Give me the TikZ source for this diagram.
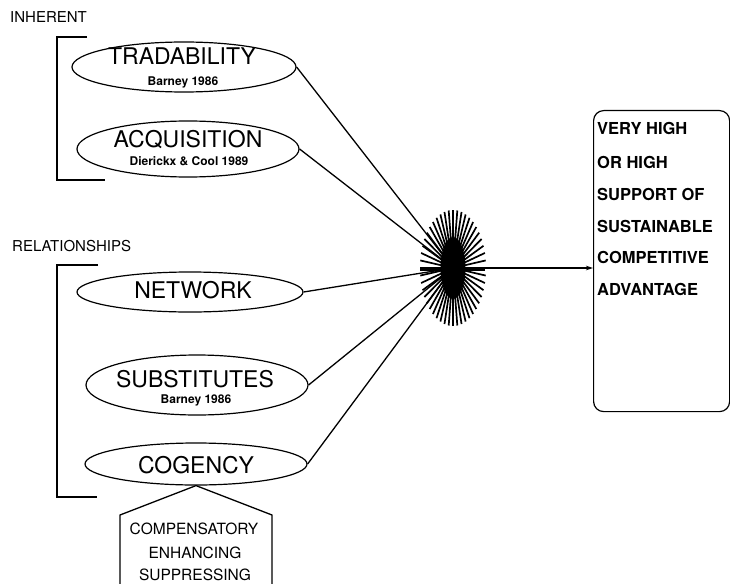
\documentclass[tikz,border=0pt]{standalone}
\usepackage{fontspec}
\setmainfont{TeX Gyre Heros}
\usetikzlibrary{shapes.geometric,arrows.meta}
\newcommand{\fsz}[1]{\fontsize{#1}{#1}\selectfont}
\tikzset{
  oval/.style={draw, ellipse, line width=1.2pt, inner sep=0pt},
  big/.style={anchor=base, inner sep=0pt, font=\fsz{23}},
  small/.style={anchor=base, inner sep=0pt, font=\bfseries\fsz{12}},
  head/.style={anchor=base west, inner sep=0pt, font=\fsz{15}},
  boxtxt/.style={anchor=base west, inner sep=0pt, font=\bfseries\fsz{16.5}},
  mid/.style={anchor=base, inner sep=0pt, font=\fsz{15.5}},
  conn/.style={line width=1.3pt},
  brk/.style={line width=1.2pt}
}
\begin{document}
\begin{tikzpicture}[x=1pt,y=-1pt]
\useasboundingbox (0,0) rectangle (730,583);
\clip (0,0) rectangle (730,583);
% headings
\node[head] (inh) at (10,23) {INHERENT};
\node[head] (rel) at (12,251) {RELATIONSHIPS};
% brackets
\draw[brk] (87,37) -- (57,37) -- (57,180) -- (105,180);
\draw[brk] (98,265) -- (57,265) -- (57,497) -- (97,497);
% ellipses
\node[oval, minimum width=224, minimum height=50] (trad) at (184,67) {};
\node[oval, minimum width=222, minimum height=56] (acq) at (188,149) {};
\node[oval, minimum width=226, minimum height=40] (net) at (190,292) {};
\node[oval, minimum width=222, minimum height=60] (sub) at (197,385) {};
\node[oval, minimum width=222, minimum height=42] (cog) at (196,464) {};
% texts
\node[big] (t1) at (182,65) {TRADABILITY};
\node[small] (t1s) at (183,86) {Barney 1986};
\node[big] (t2) at (188,147) {ACQUISITION};
\node[small] (t2s) at (189,165) {Dierickx \& Cool 1989};
\node[big] (t3) at (193,298) {NETWORK};
\node[big] (t4) at (195,387) {SUBSTITUTES};
\node[small] (t4s) at (196,403) {Barney 1986};
\node[big] (t5) at (196,473) {COGENCY};
% pentagon
\coordinate (apex) at (cog.south);
\coordinate (pl) at (120,515);
\coordinate (pr) at (272,515);
\coordinate (bl) at (120,600);
\coordinate (br) at (272,600);
\draw[conn] (bl) -- (pl) -- (apex) -- (pr) -- (br);
\node[mid] (c1) at (194,534) {COMPENSATORY};
\node[mid] (c2) at (195,558) {ENHANCING};
\node[mid] (c3) at (195,580) {SUPPRESSING};
% star centre
\coordinate (S) at (453,268);
% connectors
\draw[conn] (trad.east) -- (S);
\draw[conn] (acq.east) -- (S);
\draw[conn] (net.east) -- (S);
\draw[conn] (sub.east) -- (S);
\draw[conn] (cog.east) -- (S);
% starburst
\foreach \a in {0,7.5,...,352.5}{
  \draw[line width=1.7pt] (S) -- ++({33*cos(\a)},{58*sin(\a)});
}
\fill (S) ellipse [x radius=12.5, y radius=31];
\draw[line width=3pt] (420,269) -- (485,269);
% result box
\node[draw, rounded corners=10pt, line width=1.2pt, minimum width=136, minimum height=301, anchor=north west] (box) at (593,110) {};
\draw[conn, -{Stealth[length=7pt,width=4.5pt]}] (S) -- (box.west |- S);
\node[boxtxt] (b1) at (597,135) {VERY HIGH};
\node[boxtxt] (b2) at (597,168) {OR HIGH};
\node[boxtxt] (b3) at (597,200) {SUPPORT OF};
\node[boxtxt] (b4) at (597,232) {SUSTAINABLE};
\node[boxtxt] (b5) at (597,263) {COMPETITIVE};
\node[boxtxt] (b6) at (597,295) {ADVANTAGE};
\end{tikzpicture}
\end{document}
